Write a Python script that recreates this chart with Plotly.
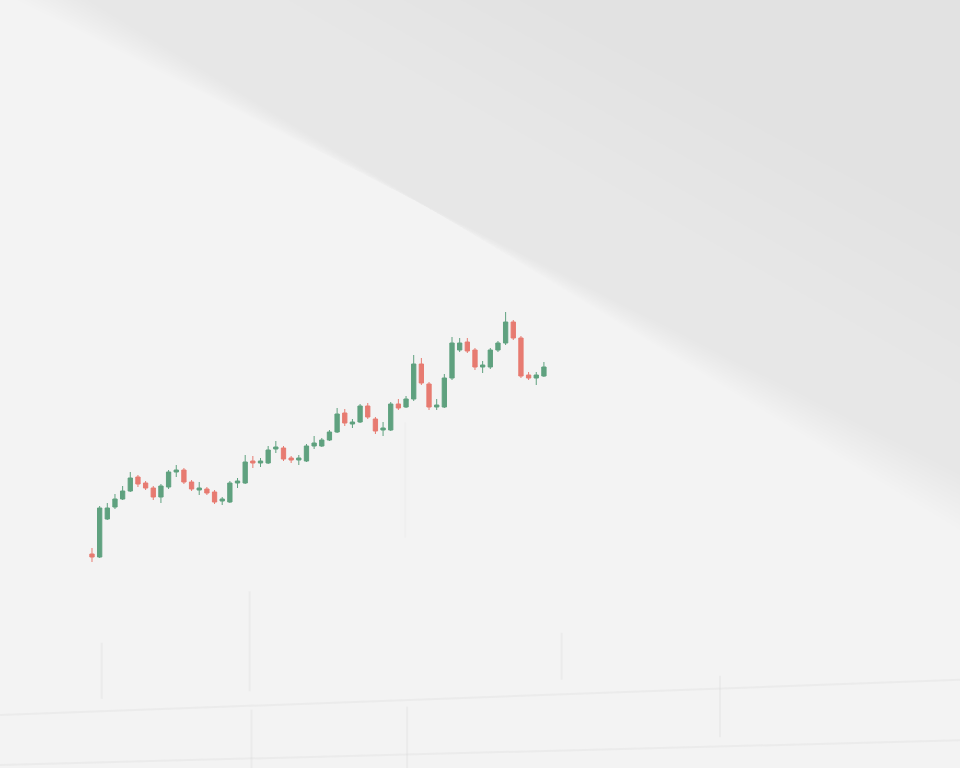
import plotly.graph_objects as go

# Session index (one candle per session)
session = list(range(60))

open_ = [101.5, 100.75, 110.25, 113.25, 115.25, 117.25, 120.75, 119.25, 118.0, 115.75,
         118.25, 122.0, 122.5, 119.5, 117.5, 117.75, 117.0, 114.75, 114.5, 119.25,
         119.25, 124.75, 124.25, 124.25, 127.75, 128.0, 125.5, 125.0, 124.75, 128.5,
         128.5, 130.0, 132.0, 136.75, 134.0, 134.5, 138.5, 135.25, 132.5, 132.5,
         139.0, 138.25, 140.25, 149.0, 144.0, 138.25, 138.25, 145.5, 152.5, 154.5,
         152.5, 148.25, 148.25, 152.5, 154.25, 159.5, 155.5, 146.25, 145.5, 146.0]
high = [103.0, 113.5, 114.25, 116.5, 118.5, 122.0, 121.25, 119.75, 118.5, 119.0,
        122.5, 123.75, 123.0, 120.0, 119.5, 118.25, 117.5, 115.75, 119.75, 120.5,
        126.25, 126.0, 125.5, 128.5, 129.75, 128.5, 126.0, 126.25, 129.0, 131.0,
        130.5, 132.5, 138.0, 137.75, 135.25, 139.0, 139.25, 135.75, 134.5, 139.5,
        140.25, 141.0, 151.25, 150.5, 144.5, 140.25, 146.5, 155.75, 155.5, 155.5,
        153.0, 149.75, 153.0, 154.75, 162.0, 160.0, 156.0, 147.0, 147.0, 149.5]
low = [99.5, 100.5, 110.0, 112.75, 115.0, 117.0, 118.25, 117.5, 115.0, 114.25,
       117.75, 120.75, 119.0, 117.25, 116.25, 116.25, 114.0, 113.75, 114.25, 118.0,
       119.0, 123.0, 123.25, 124.0, 126.75, 124.75, 124.25, 123.75, 124.5, 127.75,
       128.25, 129.75, 131.75, 133.5, 133.0, 134.25, 135.25, 131.5, 131.0, 132.25,
       137.5, 138.0, 139.75, 143.75, 137.5, 137.5, 138.0, 145.0, 152.0, 151.75,
       147.5, 146.75, 147.75, 152.0, 153.75, 155.0, 145.5, 145.0, 143.75, 145.75]
close = [100.75, 113.0, 113.0, 115.25, 117.25, 120.5, 119.0, 118.0, 115.75, 118.5,
         122.0, 122.5, 119.5, 117.75, 118.0, 116.75, 114.5, 115.25, 119.25, 119.75,
         124.5, 124.25, 124.75, 127.5, 128.25, 125.25, 125.0, 125.5, 128.5, 129.25,
         130.0, 132.0, 136.5, 134.25, 134.5, 138.5, 135.75, 132.25, 133.0, 139.0,
         138.0, 140.25, 149.0, 144.25, 138.25, 138.75, 145.5, 154.25, 154.25, 152.25,
         148.25, 148.75, 152.5, 154.25, 159.5, 155.5, 146.0, 145.5, 146.25, 148.25]

GREEN = "#5fa17f"
RED = "#e77b71"

fig = go.Figure()
fig.add_trace(go.Candlestick(
    x=session, open=open_, high=high, low=low, close=close,
    increasing=dict(line=dict(color=GREEN, width=1), fillcolor=GREEN),
    decreasing=dict(line=dict(color=RED, width=1), fillcolor=RED),
    showlegend=False, hoverinfo="skip",
))

shapes = []
# soft diagonal shadow across the upper right (thin layers for a blurred edge)
n_layers = 12
for k in range(n_layers):
    d = (n_layers - 1 - k) * 0.0065
    shapes.append(dict(
        type="path", xref="paper", yref="paper",
        path=f"M {0.09 - d} 1 L 1 1 L 1 {0.31 + d} Z",
        fillcolor="#bdbdbd", opacity=0.011, line=dict(width=0), layer="below"))
# slightly deeper tone toward the top right corner
for k in range(5):
    d = k * 0.06
    shapes.append(dict(
        type="path", xref="paper", yref="paper",
        path=f"M {0.3 + d} 1 L 1 1 L 1 {0.5 + d * 0.8} Z",
        fillcolor="#c0c0c0", opacity=0.012, line=dict(width=0), layer="below"))
# faint perspective grid near the bottom
grid_col = "rgba(205,205,205,0.2)"
for (x0, y0, x1, y1) in [(0, 0.069, 1, 0.115), (0, 0.004, 1, 0.036),
                         (0.106, 0.163, 0.106, 0.09), (0.262, 0.076, 0.262, 0.0),
                         (0.424, 0.08, 0.424, 0.0), (0.585, 0.176, 0.585, 0.115),
                         (0.75, 0.12, 0.75, 0.04), (0.26, 0.23, 0.26, 0.1)]:
    shapes.append(dict(type="line", xref="paper", yref="paper",
                       x0=x0, y0=y0, x1=x1, y1=y1,
                       line=dict(color=grid_col, width=2), layer="below"))
shapes.append(dict(type="line", xref="paper", yref="paper",
                   x0=0.422, y0=0.45, x1=0.422, y1=0.3,
                   line=dict(color="rgba(205,205,205,0.1)", width=2), layer="below"))

fig.update_layout(
    width=960, height=768,
    margin=dict(l=0, r=0, t=0, b=0),
    paper_bgcolor="#f3f3f3", plot_bgcolor="rgba(0,0,0,0)",
    boxgap=0.2,
    shapes=shapes,
    xaxis=dict(range=[-12.01, 113.32], visible=False, rangeslider=dict(visible=False),
               showgrid=False, zeroline=False),
    yaxis=dict(range=[48, 240], visible=False, showgrid=False, zeroline=False),
)

fig.write_html("out.html", config={"displayModeBar": False},
               post_script="document.body.style.margin='0';document.body.style.overflow='hidden';")
